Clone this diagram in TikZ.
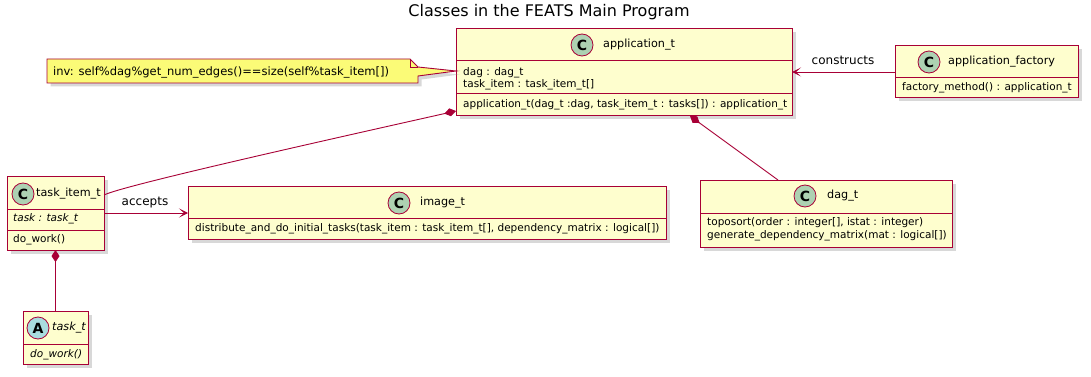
\documentclass[tikz,border=0pt]{standalone}
\usepackage{fontspec}
\setmainfont{DejaVu Sans}
\usetikzlibrary{arrows.meta,shadows,calc}

\definecolor{umlred}{HTML}{A80036}
\definecolor{umlfill}{HTML}{FEFECE}
\definecolor{iconC}{HTML}{ADD1B2}
\definecolor{iconA}{HTML}{A9DCDF}
\definecolor{notefill}{HTML}{FBFB77}

\newcommand\bodyfont{\fontsize{10.5}{12}\selectfont}
\newcommand\namefont{\fontsize{11.2}{13}\selectfont}
\newcommand\labelfont{\fontsize{12}{14}\selectfont}

\tikzset{
  umlshadow/.style={drop shadow={shadow xshift=3.5pt, shadow yshift=-3.5pt, fill=black!50, opacity=0.3}},
  classbox/.style={rectangle, draw=umlred, fill=umlfill, line width=1pt,
    inner sep=0pt, outer sep=0pt, umlshadow},
  sepline/.style={draw=umlred, line width=1pt},
  classicon/.style={circle, draw=umlred, line width=0.8pt, fill=iconC,
    minimum size=22pt, inner sep=0pt, font=\fontsize{14}{14}\selectfont\bfseries},
  abstracticon/.style={classicon, fill=iconA},
  cname/.style={anchor=west, inner sep=0pt, font=\namefont},
  member/.style={anchor=west, inner sep=0pt, font=\bodyfont},
  relation/.style={draw=umlred, line width=0.9pt},
  composition/.style={relation, {Diamond[length=12pt,width=8pt,fill=umlred]}-},
  association/.style={relation, -{Stealth[length=9pt,width=9pt,inset=5pt]}},
  rellabel/.style={inner sep=0pt, font=\labelfont},
  notebox/.style={draw=umlred, fill=notefill, line width=0.9pt, umlshadow},
}

% class box from its left, top, right and bottom edges
\newcommand\umlclass[5]{%
  \node[classbox, minimum width={#4-#2}, minimum height={#5-#3}]
    (#1) at ({(#2+#4)/2},{(#3+#5)/2}) {};}
% compartment separator inside a class box at height #2
\newcommand\umlsep[2]{\draw[sepline] (#1.west |- 0,#2) -- (#1.east |- 0,#2);}

\begin{document}
\begin{tikzpicture}[x=1pt,y=-1pt]
\useasboundingbox (0,0) rectangle (1091,377);
\fill[white] (0,0) rectangle (1091,377);

\node[font=\fontsize{16}{18}\selectfont, inner sep=0pt] (title) at (549,12)
  {Classes in the FEATS Main Program};

% application_t
\umlclass{app}{456}{29}{792}{116}
\umlsep{app}{61}
\umlsep{app}{94}
\node[classicon] (app-icon) at (582,45) {C};
\node[cname] (app-name) at (603,45) {application\_t};
\node[member] (app-a1) at (463,73) {dag : dag\_t};
\node[member] (app-a2) at (463,85) {task\_item : task\_item\_t[]};
\node[member] (app-m1) at (463,105) {application\_t(dag\_t :dag, task\_item\_t : tasks[]) : application\_t};

% application_factory
\umlclass{fac}{895}{46}{1078}{98}
\umlsep{fac}{78}
\node[classicon] (fac-icon) at (929,62) {C};
\node[cname] (fac-name) at (948,62) {application\_factory};
\node[member] (fac-m1) at (902,88) {factory\_method() : application\_t};

% task_item_t
\umlclass{ti}{7}{176}{104}{250}
\umlsep{ti}{209}
\umlsep{ti}{230}
\node[classicon] (ti-icon) at (23,194) {C};
\node[cname] (ti-name) at (36,194) {task\_item\_t};
\node[member, font=\bodyfont\itshape] (ti-a1) at (13,219) {task : task\_t};
\node[member] (ti-m1) at (13,240) {do\_work()};

% image_t
\umlclass{img}{188}{186}{666}{239}
\umlsep{img}{218}
\node[classicon] (img-icon) at (399,203) {C};
\node[cname] (img-name) at (420,203) {image\_t};
\node[member] (img-m1) at (195,229)
  {distribute\_and\_do\_initial\_tasks(task\_item : task\_item\_t[], dependency\_matrix : logical[])};

% dag_t
\umlclass{dag}{700}{180}{952}{247}
\umlsep{dag}{213}
\node[classicon] (dag-icon) at (805,196) {C};
\node[cname] (dag-name) at (827,196) {dag\_t};
\node[member] (dag-m1) at (707,223) {toposort(order : integer[], istat : integer)};
\node[member] (dag-m2) at (707,236) {generate\_dependency\_matrix(mat : logical[])};

% task_t (abstract)
\umlclass{tt}{23}{311}{88}{364}
\umlsep{tt}{344}
\node[abstracticon] (tt-icon) at (38,328) {A};
\node[cname, font=\namefont\itshape] (tt-name) at (52,328) {task\_t};
\node[member, font=\bodyfont\itshape] (tt-m1) at (30,355) {do\_work()};

% invariant note attached to application_t
\coordinate (inv-tip) at (app.west |- 0,71);
\path[notebox] (47,59) -- (410,59) -- (418,67) -- (inv-tip)
  -- (418,76) -- (418,83) -- (47,83) -- cycle;
\draw[umlred, line width=0.9pt] (410,59) -- (410,67) -- (418,67);
\node[member, font=\fontsize{11.5}{13}\selectfont] (inv) at (53,72)
  {inv: self\%dag\%get\_num\_edges()==size(self\%task\_item[])};

% relations
\draw[association] (fac.west) -- (fac.west -| app.east);
\node[rellabel] (lbl-constructs) at (843,60) {constructs};

\draw[association] (ti.east) -- (ti.east -| img.west);
\node[rellabel] (lbl-accepts) at (145,203) {accepts};

\draw[composition] (app.west |- 0,111) .. controls (300,146) and (122,186) .. ([yshift=18pt]ti.east);
\draw[composition] ([xshift=66pt]app.south) -- ([xshift=-48pt]dag.north);
\draw[composition] (ti.south) -- (tt.north);
\end{tikzpicture}
\end{document}
